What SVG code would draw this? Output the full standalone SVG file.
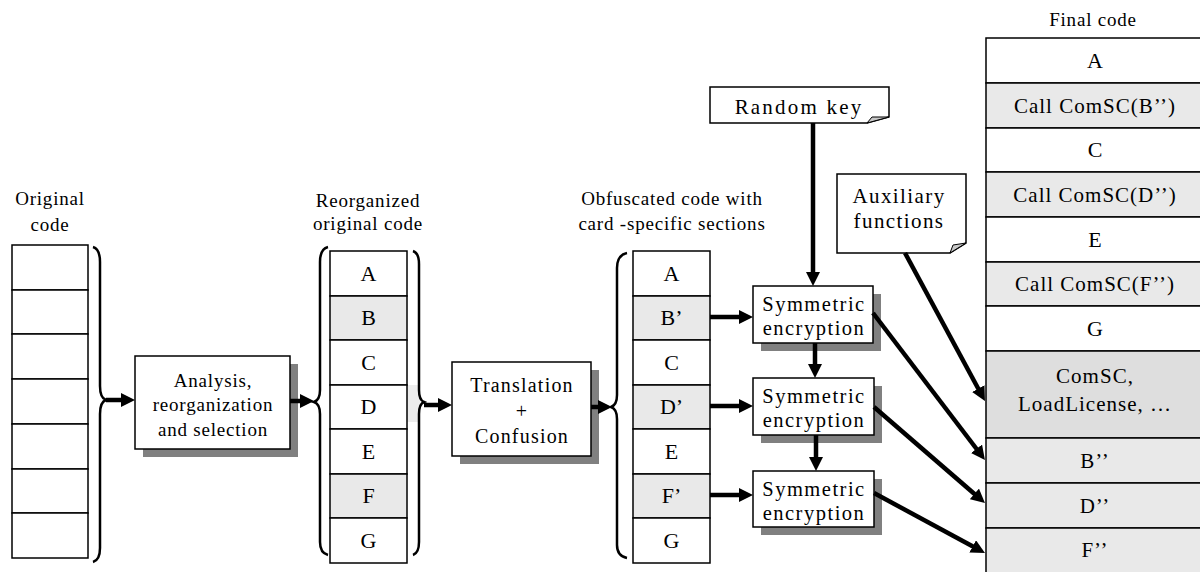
<svg xmlns="http://www.w3.org/2000/svg" width="1200" height="572" viewBox="0 0 1200 572">
<style>
text{font-family:"Liberation Serif","Times New Roman",serif;fill:#000;text-anchor:middle}
.lb{font-size:19px;letter-spacing:0.8px}
.rk{font-size:21px;letter-spacing:2.2px}
.ax{font-size:21px;letter-spacing:1.4px}
.se{font-size:20.5px;letter-spacing:1.5px}
.tr{font-size:20px;letter-spacing:1.2px}
.cl{font-size:22px}
.fc{font-size:21px;letter-spacing:1px}
.cell{fill:#fff;stroke:#000;stroke-width:1.5}
.g{fill:#e9e9e9;stroke:#000;stroke-width:1.5}
.g2{fill:#dedede;stroke:#000;stroke-width:1.5}
.box{fill:#fff;stroke:#000;stroke-width:1.5}
.sh{fill:#808080}
.br{fill:none;stroke:#000;stroke-width:2.5}
.ar{fill:none;stroke:#000;stroke-width:4.5;marker-end:url(#ah)}
.fold{fill:#c8c8c8;stroke:#000;stroke-width:1}
</style>
<defs>
<marker id="ah" viewBox="0 0 14 14" markerWidth="14" markerHeight="14" refX="4" refY="7" orient="auto" markerUnits="userSpaceOnUse">
<path d="M0,0 L14,7 L0,14 z" fill="#000"/>
</marker>
</defs>

<g id="original-code">
<text class="lb" x="50" y="205">Original</text>
<text class="lb" x="50" y="231">code</text>
<rect class="cell" x="12" y="245" width="76" height="45"/>
<rect class="cell" x="12" y="290" width="76" height="44"/>
<rect class="cell" x="12" y="334" width="76" height="45"/>
<rect class="cell" x="12" y="379" width="76" height="45"/>
<rect class="cell" x="12" y="424" width="76" height="45"/>
<rect class="cell" x="12" y="469" width="76" height="44"/>
<rect class="cell" x="12" y="513" width="76" height="45"/>
<path class="br" d="M93,247 Q100,249 100,262 V386 Q100,398 106,400 Q100,402 100,414 V548 Q100,560 93,562"/>
</g>

<g id="analysis">
<rect class="sh" x="143" y="364" width="155" height="93"/>
<rect class="box" x="135" y="356" width="155" height="93"/>
<text class="lb" x="213" y="387">Analysis,</text>
<text class="lb" x="213" y="411">reorganization</text>
<text class="lb" x="213" y="436">and selection</text>
</g>

<g id="reorganized-code">
<text class="lb" x="368" y="207">Reorganized</text>
<text class="lb" x="368" y="230">original code</text>
<rect x="407" y="385" width="13" height="37" fill="#ececec"/>
<rect class="cell" x="330" y="251" width="77" height="45"/>
<rect class="g" x="330" y="296" width="77" height="44"/>
<rect class="cell" x="330" y="340" width="77" height="45"/>
<rect class="cell" x="330" y="385" width="77" height="44"/>
<rect class="cell" x="330" y="429" width="77" height="45"/>
<rect class="g" x="330" y="474" width="77" height="44"/>
<rect class="cell" x="330" y="518" width="77" height="45"/>
<text class="cl" x="368.5" y="281">A</text>
<text class="cl" x="368.5" y="325">B</text>
<text class="cl" x="368.5" y="370">C</text>
<text class="cl" x="368.5" y="414">D</text>
<text class="cl" x="368.5" y="459">E</text>
<text class="cl" x="368.5" y="503">F</text>
<text class="cl" x="368.5" y="548">G</text>
<path class="br" d="M328,247 Q320,249 320,262 V390 Q320,400 314,402 Q320,404 320,414 V542 Q320,553 328,555"/>
<path class="br" d="M413,251 Q419,253 419,264 V390 Q419,400 424,402 Q419,404 419,414 V542 Q419,553 413,555"/>
</g>

<g id="translation">
<rect class="sh" x="460" y="370" width="139" height="94"/>
<rect class="box" x="452" y="362" width="139" height="94"/>
<text class="tr" x="522" y="392">Translation</text>
<text class="tr" x="522" y="418">+</text>
<text class="tr" x="522" y="443">Confusion</text>
</g>

<g id="obfuscated-code">
<text class="lb" x="672" y="205">Obfuscated code with</text>
<text class="lb" x="672" y="230">card -specific sections</text>
<rect class="cell" x="633" y="251" width="77" height="45"/>
<rect class="g" x="633" y="296" width="77" height="44"/>
<rect class="cell" x="633" y="340" width="77" height="45"/>
<rect class="g" x="633" y="385" width="77" height="44"/>
<rect class="cell" x="633" y="429" width="77" height="45"/>
<rect class="g" x="633" y="474" width="77" height="44"/>
<rect class="cell" x="633" y="518" width="77" height="45"/>
<text class="cl" x="671.5" y="281">A</text>
<text class="cl" x="671.5" y="325">B’</text>
<text class="cl" x="671.5" y="370">C</text>
<text class="cl" x="671.5" y="414">D’</text>
<text class="cl" x="671.5" y="459">E</text>
<text class="cl" x="671.5" y="503">F’</text>
<text class="cl" x="671.5" y="548">G</text>
<path class="br" d="M627,253 Q617,255 617,268 V395 Q617,405 611,407 Q617,409 617,419 V545 Q617,556 627,558"/>
</g>

<g id="random-key">
<path class="box" d="M710,87 H889 V117 L867,123 H710 Z"/>
<path class="fold" d="M867,123 L889,117 L872,117 Z"/>
<text class="rk" x="799" y="114">Random key</text>
</g>

<g id="auxiliary-functions">
<path class="box" d="M837,174 H966 V243 L950,253 H837 Z"/>
<path class="fold" d="M950,253 L966,243 L953,245 Z"/>
<text class="ax" x="899" y="203">Auxiliary</text>
<text class="ax" x="899" y="228">functions</text>
</g>

<g id="sym-enc-1">
<rect class="sh" x="761" y="294" width="120" height="57"/>
<rect class="box" x="753" y="286" width="120" height="57"/>
<text class="se" x="814" y="311">Symmetric</text>
<text class="se" x="814" y="335">encryption</text>
</g>
<g id="sym-enc-2">
<rect class="sh" x="761" y="386" width="121" height="57"/>
<rect class="box" x="753" y="378" width="121" height="57"/>
<text class="se" x="814" y="403">Symmetric</text>
<text class="se" x="814" y="427">encryption</text>
</g>
<g id="sym-enc-3">
<rect class="sh" x="761" y="479" width="121" height="56"/>
<rect class="box" x="753" y="471" width="121" height="56"/>
<text class="se" x="814" y="496">Symmetric</text>
<text class="se" x="814" y="520">encryption</text>
</g>

<g id="final-code">
<text class="lb" x="1093" y="26">Final code</text>
<rect class="cell" x="986" y="38" width="230" height="45"/>
<rect class="g" x="986" y="83" width="230" height="45"/>
<rect class="cell" x="986" y="128" width="230" height="44"/>
<rect class="g" x="986" y="172" width="230" height="45"/>
<rect class="cell" x="986" y="217" width="230" height="45"/>
<rect class="g" x="986" y="262" width="230" height="44"/>
<rect class="cell" x="986" y="306" width="230" height="45"/>
<rect class="g2" x="986" y="351" width="230" height="87"/>
<rect class="g" x="986" y="438" width="230" height="45"/>
<rect class="g" x="986" y="483" width="230" height="45"/>
<rect class="g" x="986" y="528" width="230" height="60"/>
<text class="cl" x="1095" y="68">A</text>
<text class="fc" x="1095" y="113">Call ComSC(B’’)</text>
<text class="cl" x="1095" y="157">C</text>
<text class="fc" x="1095" y="202">Call ComSC(D’’)</text>
<text class="cl" x="1095" y="247">E</text>
<text class="fc" x="1095" y="291">Call ComSC(F’’)</text>
<text class="cl" x="1095" y="336">G</text>
<text class="fc" x="1095" y="383">ComSC,</text>
<text class="fc" x="1095" y="411">LoadLicense, …</text>
<text class="fc" x="1095" y="468">B’’</text>
<text class="fc" x="1095" y="513">D’’</text>
<text class="fc" x="1095" y="557">F’’</text>
</g>

<g id="connectors">
<line class="ar" x1="106" y1="400" x2="125" y2="400"/>
<line class="ar" x1="290" y1="401" x2="304" y2="401"/>
<line class="ar" x1="424" y1="405" x2="442" y2="405"/>
<line class="ar" x1="591" y1="407" x2="602" y2="407"/>
<line class="ar" x1="710" y1="317" x2="743" y2="317"/>
<line class="ar" x1="710" y1="406" x2="743" y2="406"/>
<line class="ar" x1="710" y1="495" x2="743" y2="495"/>
<line class="ar" x1="813" y1="123" x2="813" y2="276"/>
<line class="ar" x1="815" y1="343" x2="815" y2="368"/>
<line class="ar" x1="816" y1="435" x2="816" y2="461"/>
<line class="ar" x1="905" y1="253" x2="980.2" y2="392.2"/>
<line class="ar" x1="873" y1="313" x2="978.9" y2="452"/>
<line class="ar" x1="874" y1="407" x2="977.4" y2="496.5"/>
<line class="ar" x1="874" y1="493" x2="976.2" y2="548.3"/>
</g>
</svg>
